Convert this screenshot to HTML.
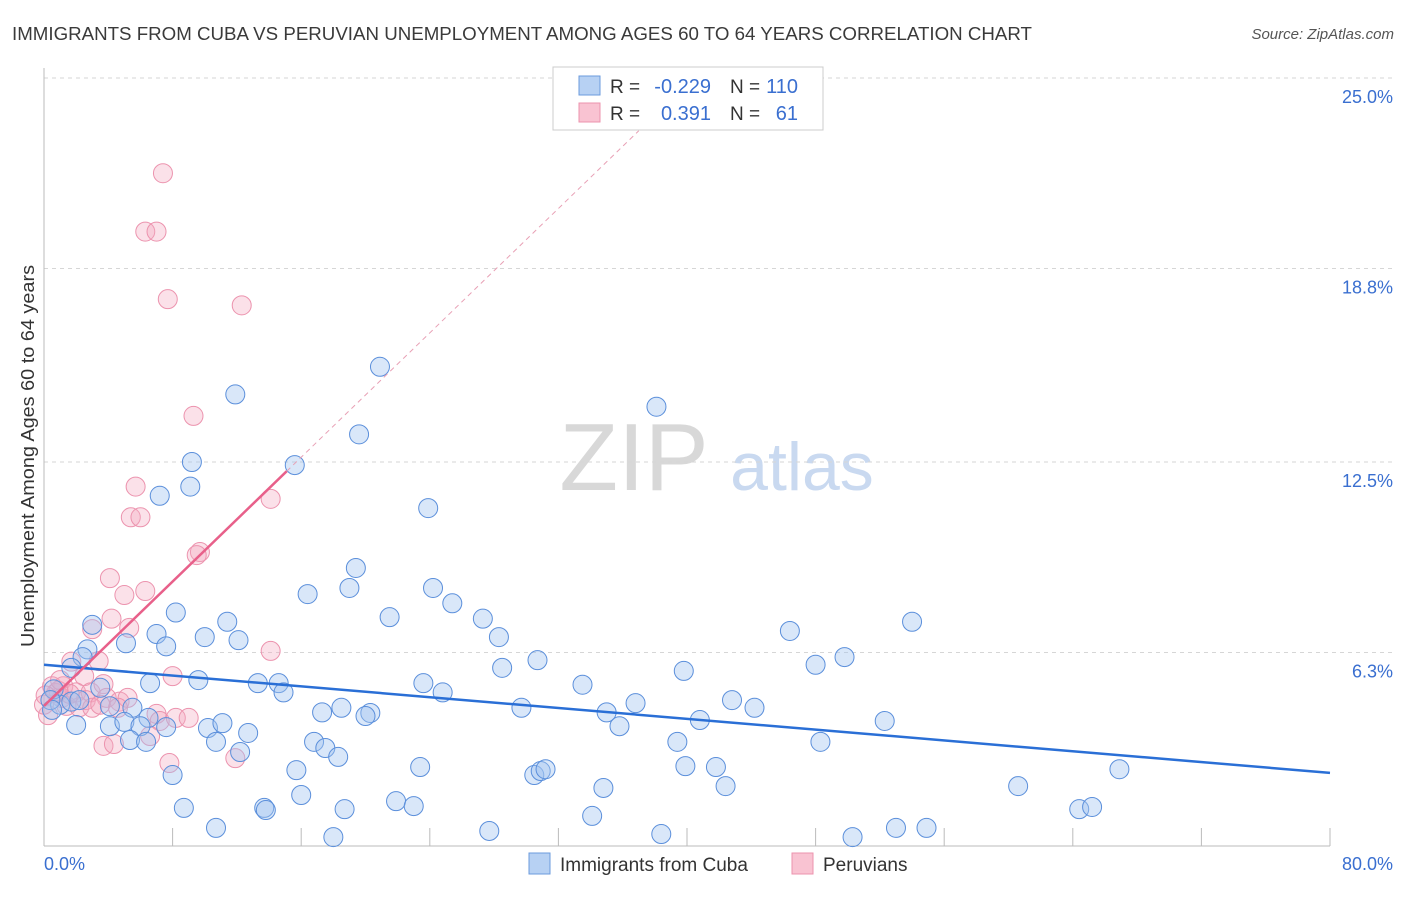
<!DOCTYPE html>
<html><head><meta charset="utf-8">
<style>
body{margin:0;background:#fff;font-family:"Liberation Sans",sans-serif;}
svg text{font-family:"Liberation Sans",sans-serif;}
</style></head>
<body>
<svg id="chart" width="1406" height="892" viewBox="0 0 1406 892" xmlns="http://www.w3.org/2000/svg">
<text x="12" y="40" font-size="18" textLength="1020" lengthAdjust="spacingAndGlyphs" fill="#3a3a3a">IMMIGRANTS FROM CUBA VS PERUVIAN UNEMPLOYMENT AMONG AGES 60 TO 64 YEARS CORRELATION CHART</text>
<text x="1394" y="39" font-size="15" fill="#555" text-anchor="end" font-style="italic">Source: ZipAtlas.com</text>
<g>
<text x="634" y="490" font-size="96" fill="#d8d8d8" text-anchor="middle" font-family="Liberation Serif">ZIP</text>
<text x="802" y="490" font-size="68" fill="#c9d9f0" text-anchor="middle">atlas</text>
</g>
<g id="grid"></g>
<g id="axes"></g>
<g id="marks"></g>
<text transform="translate(34,456) rotate(-90)" font-size="18" textLength="382" lengthAdjust="spacingAndGlyphs" fill="#333" text-anchor="middle">Unemployment Among Ages 60 to 64 years</text>
<g>
<rect x="553" y="67" width="270" height="63" fill="#fff" stroke="#ccc"/>
<rect x="579" y="76" width="21" height="19" fill="#b7d1f3" stroke="#6b9bdc"/>
<rect x="579" y="103" width="21" height="19" fill="#f9c3d2" stroke="#ec93ae"/>
<text x="610" y="93" font-size="19" fill="#333">R =</text>
<text x="711" y="93" font-size="20" fill="#3a6fd0" text-anchor="end">-0.229</text>
<text x="730" y="93" font-size="19" fill="#333">N =</text>
<text x="798" y="93" font-size="20" fill="#3a6fd0" text-anchor="end">110</text>
<text x="610" y="120" font-size="19" fill="#333">R =</text>
<text x="711" y="120" font-size="20" fill="#3a6fd0" text-anchor="end">0.391</text>
<text x="730" y="120" font-size="19" fill="#333">N =</text>
<text x="798" y="120" font-size="20" fill="#3a6fd0" text-anchor="end">61</text>
</g>
<g>
<rect x="529" y="853" width="21" height="21" fill="#b7d1f3" stroke="#6b9bdc"/>
<text x="560" y="871" font-size="19" fill="#333">Immigrants from Cuba</text>
<rect x="792" y="853" width="21" height="21" fill="#f9c3d2" stroke="#ec93ae"/>
<text x="823" y="871" font-size="19" fill="#333">Peruvians</text>
</g>
</svg>
<script>
const yTicks=[25,18.8,12.5,6.3];
const yTickLabels=["25.0%","18.8%","12.5%","6.3%"];
const xLabels=["0.0%","80.0%"];
const cubaX=[20.9,38.1,11.9,19.6,9.2,15.6,9.1,7.2,23.9,19.4,24.2,19.0,16.4,25.4,21.5,27.3,8.2,11.4,3.0,7.0,10.0,12.1,7.6,5.1,28.3,30.7,28.5,46.4,54.0,49.8,48.0,39.8,2.7,2.4,1.7,6.6,9.6,13.3,14.6,14.9,23.6,24.8,33.5,36.8,42.8,44.2,35.0,35.8,40.8,52.3,29.7,17.3,18.5,20.3,20.0,3.5,4.1,5.5,6.5,1.0,1.7,2.2,0.6,0.4,0.5,2.0,4.1,5.0,6.0,7.6,10.2,11.1,12.7,5.35,6.35,10.7,12.2,16.8,17.5,18.3,39.4,48.3,8.0,15.7,23.4,30.5,30.9,31.2,39.9,41.8,42.4,34.8,66.9,60.6,16.0,21.9,23.0,18.7,8.7,13.7,13.8,64.4,65.2,34.1,10.7,27.7,38.4,53.0,54.9,18.0,50.3];
const cubaY=[15.6,14.3,14.7,13.4,12.5,12.4,11.7,11.4,11.0,9.05,8.4,8.4,8.2,7.9,7.45,7.4,7.6,7.3,7.2,6.9,6.8,6.7,6.5,6.6,6.8,6.05,5.8,7.0,7.3,6.15,5.9,5.7,6.4,6.15,5.8,5.3,5.4,5.3,5.3,5.0,5.3,5.0,5.25,4.65,4.75,4.5,4.35,3.9,4.1,4.07,4.5,4.35,4.5,4.33,4.23,5.15,4.55,4.5,4.17,4.6,4.7,4.75,5.1,4.75,4.43,3.94,3.9,4.04,3.9,3.87,3.84,4.0,3.68,3.45,3.39,3.39,3.06,3.39,3.19,2.9,3.39,3.39,2.31,2.47,2.57,2.31,2.44,2.5,2.6,2.57,1.95,1.89,2.5,1.95,1.66,1.46,1.3,1.2,1.24,1.24,1.17,1.2,1.27,0.98,0.59,0.49,0.39,0.59,0.59,0.29,0.29];
const peruX=[7.4,6.3,7.0,7.7,12.3,9.3,5.7,14.1,5.4,6.0,9.7,9.5,4.1,6.3,5.0,4.2,3.0,5.3,1.7,3.4,14.1,8.0,2.5,0.5,1.2,0.75,1.1,1.4,0.25,2.0,2.9,3.7,3.9,4.7,5.2,4.6,7.0,7.2,8.2,9.0,6.6,3.7,4.35,7.8,11.9,2.2,2.6,1.6,0.9,0,3.0,3.5,1.0,0.1];
const peruY=[21.9,20.0,20.0,17.8,17.6,14.0,11.7,11.3,10.7,10.7,9.57,9.47,8.72,8.3,8.17,7.4,7.06,7.1,6.0,6.02,6.35,5.53,5.53,5.2,5.2,4.98,4.82,4.56,4.26,5.0,5.0,5.27,4.82,4.7,4.82,4.5,4.3,4.07,4.17,4.17,3.58,3.26,3.32,2.7,2.86,4.52,4.75,4.95,5.05,4.6,4.5,4.6,5.4,4.9];
const cubaFit=[5.9,2.38];   // y at x=0 and x=80
const peruFit=[4.56,0.506]; // intercept, slope
const NS="http://www.w3.org/2000/svg";
const X0=44,X1=1330,Y0=846,YTOP=78;
const xs=v=>X0+(v/80)*(X1-X0);
const ys=v=>Y0-(v/25)*(Y0-YTOP);
function mk(tag,attrs,parent){const e=document.createElementNS(NS,tag);for(const k in attrs)e.setAttribute(k,attrs[k]);parent.appendChild(e);return e;}
const grid=document.getElementById('grid'),axes=document.getElementById('axes'),marks=document.getElementById('marks');
yTicks.forEach((t,i)=>{
  const l=mk('line',{x1:X0,x2:1394,y1:ys(t),y2:ys(t),stroke:'#d6d6d6','stroke-dasharray':'4,4'},grid);
  
  
  const tx=mk('text',{x:1393,y:ys(t)+25,'font-size':18,fill:'#3a6fd0','text-anchor':'end'},axes);
  tx.textContent=yTickLabels[i];
  
  
});
const ya=mk('line',{x1:X0,x2:X0,y1:68,y2:Y0,stroke:'#bbb'},axes);


const xa=mk('line',{x1:X0,x2:X1,y1:Y0,y2:Y0,stroke:'#bbb'},axes);


for(let i=1;i<=10;i++){const t=mk('line',{x1:xs(i*8),x2:xs(i*8),y1:Y0-18,y2:Y0,stroke:'#bbb'},axes);
  
  }
const xl0=mk('text',{x:44,y:870,'font-size':18,fill:'#3a6fd0'},axes);xl0.textContent=xLabels[0];


const xl1=mk('text',{x:1393,y:870,'font-size':18,fill:'#3a6fd0','text-anchor':'end'},axes);xl1.textContent=xLabels[1];


peruX.forEach((v,i)=>{const c=mk('circle',{cx:xs(v),cy:ys(peruY[i]),r:9.5,fill:'rgba(244,170,192,0.35)',stroke:'#ec93ae','stroke-width':1},marks);
  
  });
cubaX.forEach((v,i)=>{const c=mk('circle',{cx:xs(v),cy:ys(cubaY[i]),r:9.5,fill:'rgba(160,195,240,0.4)',stroke:'#5b8fdb','stroke-width':1},marks);
  
  });
const bl=mk('line',{x1:xs(0),y1:ys(cubaFit[0]),x2:xs(80),y2:ys(cubaFit[1]),stroke:'#2a6fd6','stroke-width':2.5},marks);


const pl=mk('line',{x1:xs(0),y1:ys(peruFit[0]),x2:xs(15.1),y2:ys(peruFit[0]+peruFit[1]*15.1),stroke:'#e8608a','stroke-width':2.5},marks);


const pd=mk('line',{x1:xs(15.1),y1:ys(peruFit[0]+peruFit[1]*15.1),x2:xs(37),y2:ys(peruFit[0]+peruFit[1]*37),stroke:'#e8a0b5','stroke-width':1,'stroke-dasharray':'5,4'},marks);


</script>
</body></html>
